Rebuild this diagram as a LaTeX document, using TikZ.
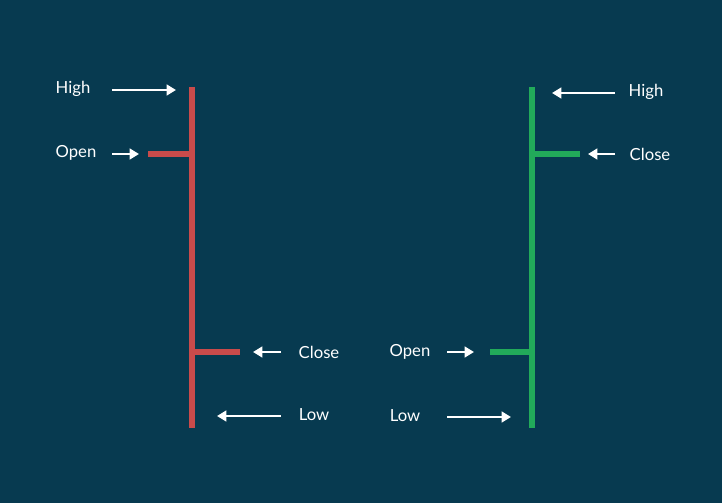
\documentclass[tikz,border=0pt]{standalone}
\usepackage{fontspec}
\setmainfont{Lato}
\usetikzlibrary{arrows.meta}
\definecolor{bg}{HTML}{073A50}
\definecolor{rd}{HTML}{C94B4B}
\definecolor{gr}{HTML}{22AA5A}
\begin{document}
\begin{tikzpicture}[x=0.75pt,y=-0.75pt,
  lbl/.style={text=white,font=\fontsize{12.5}{14}\selectfont,inner sep=0pt},
  arr/.style={white,line width=2.2pt,-{Triangle[length=7pt,width=8pt]}},
  rbar/.style={rd,line width=4pt},
  gbar/.style={gr,line width=4pt}]
\fill[bg] (0,0) rectangle (722,503);
\useasboundingbox (0,0) rectangle (722,503);
% red candle
\coordinate (rt) at (192,87); \coordinate (rb) at (192,428);
\coordinate (ro) at (148,154); \coordinate (roj) at (192,154);
\coordinate (rc) at (240,352); \coordinate (rcj) at (192,352);
\draw[rbar] (rt) -- (rb);
\draw[rbar] (ro) -- (roj);
\draw[rbar] (rcj) -- (rc);
% green candle
\coordinate (gt) at (532,87); \coordinate (gb) at (532,428);
\coordinate (gc) at (580,154); \coordinate (gcj) at (532,154);
\coordinate (go) at (490,352); \coordinate (goj) at (532,352);
\draw[gbar] (gt) -- (gb);
\draw[gbar] (gcj) -- (gc);
\draw[gbar] (go) -- (goj);
% labels left
\node[lbl] (h1) at (73,89) {High};
\node[lbl] (o1) at (76,153) {Open};
\node[lbl] (c1) at (319,352) {Close};
\node[lbl] (l1) at (314,415) {Low};
\coordinate (h1a) at (112,90); \coordinate (h1b) at (176,90);
\coordinate (o1a) at (112,154); \coordinate (o1b) at (139,154);
\coordinate (c1a) at (281,352); \coordinate (c1b) at (253,352);
\coordinate (l1a) at (281,416); \coordinate (l1b) at (217,416);
\draw[arr] (h1a) -- (h1b);
\draw[arr] (o1a) -- (o1b);
\draw[arr] (c1a) -- (c1b);
\draw[arr] (l1a) -- (l1b);
% labels right
\node[lbl] (h2) at (646,92) {High};
\node[lbl] (c2) at (650,154) {Close};
\node[lbl] (o2) at (410,352) {Open};
\node[lbl] (l2) at (405,416) {Low};
\coordinate (h2a) at (615,93); \coordinate (h2b) at (552,93);
\coordinate (c2a) at (615,154); \coordinate (c2b) at (588,154);
\coordinate (o2a) at (447,352); \coordinate (o2b) at (474,352);
\coordinate (l2a) at (447,417); \coordinate (l2b) at (511,417);
\draw[arr] (h2a) -- (h2b);
\draw[arr] (c2a) -- (c2b);
\draw[arr] (o2a) -- (o2b);
\draw[arr] (l2a) -- (l2b);
\end{tikzpicture}
\end{document}
